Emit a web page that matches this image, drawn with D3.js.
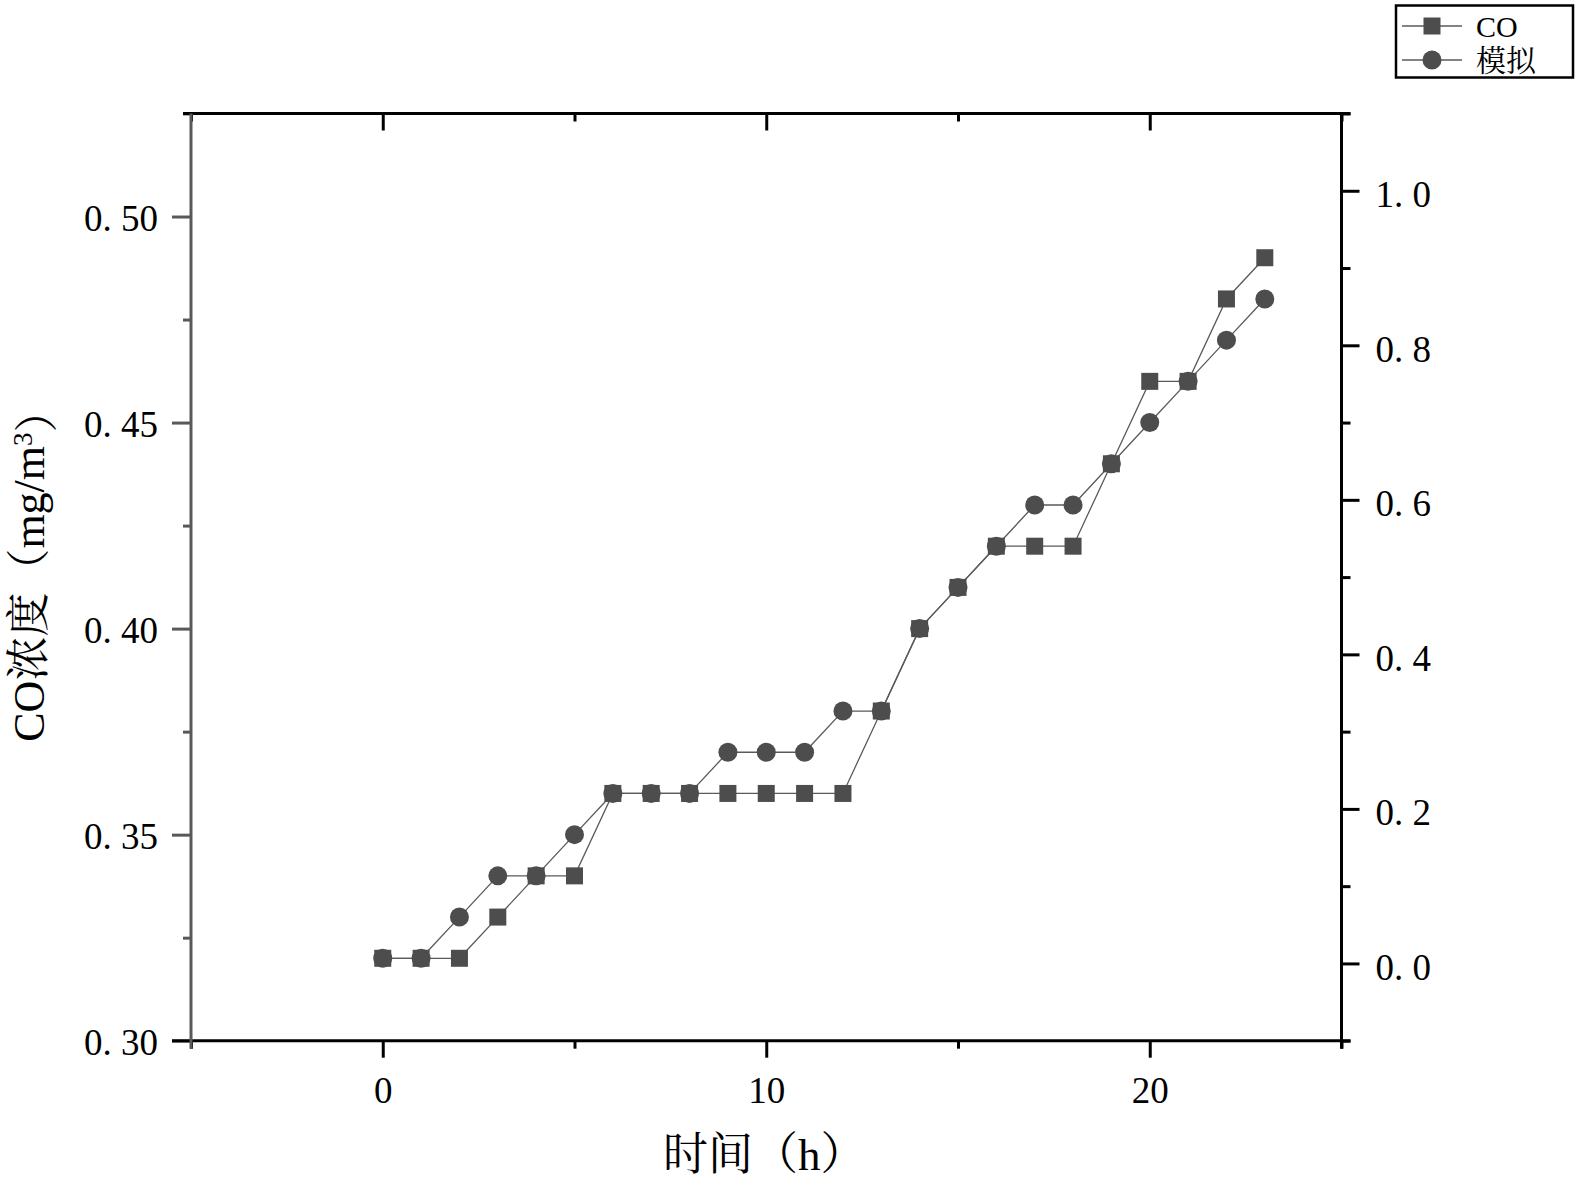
<!DOCTYPE html>
<html>
<head>
<meta charset="utf-8">
<script src="https://cdn.jsdelivr.net/npm/d3@7"></script>
<style>
  body { margin: 0; background: #fff; }
  svg text { font-family: "Liberation Serif", "Noto Serif CJK SC", "Noto Sans CJK SC", serif; fill: #000; }
</style>
</head>
<body>
<script>
(function(){

//data
var hours = [0,1,2,3,4,5,6,7,8,9,10,11,12,13,14,15,16,17,18,19,20,21,22,23];
var coValues = [0.32,0.32,0.32,0.33,0.34,0.34,0.36,0.36,0.36,0.36,0.36,0.36,0.36,0.38,0.40,0.41,0.42,0.42,0.42,0.44,0.46,0.46,0.48,0.49];
var simValues = [0.32,0.32,0.33,0.34,0.34,0.35,0.36,0.36,0.36,0.37,0.37,0.37,0.38,0.38,0.40,0.41,0.42,0.43,0.43,0.44,0.45,0.46,0.47,0.48];
var seriesNames = ["CO", "模拟"];

var xMajor = [0, 10, 20], xMinor = [-5, 5, 15, 25];
var yMajor = [0.30, 0.35, 0.40, 0.45, 0.50], yMinor = [0.325, 0.375, 0.425, 0.475, 0.525];
var rMajor = [0.0, 0.2, 0.4, 0.6, 0.8, 1.0], rMinor = [-0.1, 0.1, 0.3, 0.5, 0.7, 0.9, 1.1];

//frame
var width = 1575, height = 1181;
var left = 191, right = 1341.5, top = 113.5, bottom = 1040.7;
var markColor = "#4d4d4d", lineColor = "#5a5a5a";

var svg = d3.select("body").append("svg")
    .attr("width", width)
    .attr("height", height);

var x = d3.scaleLinear().domain([-5, 25]).range([left, right]);
var y = d3.scaleLinear().domain([0.30, 0.525]).range([bottom, top]);
var yRight = d3.scaleLinear().domain([-0.1, 1.1]).range([bottom, top]);

function fmt(n){
    return function(d){ return d3.format("." + n + "f")(d).replace(".", ". "); };
}

function styleAxis(g, color){
    g.select(".domain").remove();
    g.selectAll(".tick line").attr("stroke", color).attr("stroke-width", 3);
    g.selectAll(".tick text").style("font-size", "37px").attr("fill", "#000");
}

//left axis (gray)
svg.append("g").attr("transform", "translate(" + left + ",0)")
    .call(d3.axisLeft(y).tickValues(yMinor).tickSize(8).tickFormat(""))
    .call(styleAxis, "#595959");
svg.append("g").attr("transform", "translate(" + left + ",0)")
    .call(d3.axisLeft(y).tickValues(yMajor).tickSize(19).tickPadding(14).tickFormat(fmt(2)))
    .call(styleAxis, "#595959")
    .selectAll(".tick text").attr("dy", "0.38em");

//right axis
svg.append("g").attr("transform", "translate(" + right + ",0)")
    .call(d3.axisRight(yRight).tickValues(rMinor).tickSize(9).tickFormat(""))
    .call(styleAxis, "#000");
svg.append("g").attr("transform", "translate(" + right + ",0)")
    .call(d3.axisRight(yRight).tickValues(rMajor).tickSize(18).tickPadding(16).tickFormat(fmt(1)))
    .call(styleAxis, "#000")
    .selectAll(".tick text").attr("dy", "0.43em");

//bottom axis
svg.append("g").attr("transform", "translate(0," + bottom + ")")
    .call(d3.axisBottom(x).tickValues(xMinor).tickSize(8).tickFormat(""))
    .call(styleAxis, "#000");
svg.append("g").attr("transform", "translate(0," + bottom + ")")
    .call(d3.axisBottom(x).tickValues(xMajor).tickSize(17).tickPadding(19).tickFormat(d3.format("d")))
    .call(styleAxis, "#000");

//top axis, ticks inward
svg.append("g").attr("transform", "translate(0," + top + ")")
    .call(d3.axisTop(x).tickValues(xMinor).tickSize(-8).tickFormat(""))
    .call(styleAxis, "#000");
svg.append("g").attr("transform", "translate(0," + top + ")")
    .call(d3.axisTop(x).tickValues(xMajor).tickSize(-17).tickFormat(""))
    .call(styleAxis, "#000");

//frame lines
svg.append("line").attr("x1", left - 8).attr("x2", right + 9).attr("y1", top).attr("y2", top)
    .attr("stroke", "#000").attr("stroke-width", 3);
svg.append("line").attr("x1", left - 19).attr("x2", right + 9).attr("y1", bottom).attr("y2", bottom)
    .attr("stroke", "#000").attr("stroke-width", 3);
svg.append("line").attr("x1", right).attr("x2", right).attr("y1", top).attr("y2", bottom + 8)
    .attr("stroke", "#000").attr("stroke-width", 3);
svg.append("line").attr("x1", left).attr("x2", left).attr("y1", top).attr("y2", bottom + 8)
    .attr("stroke", "#595959").attr("stroke-width", 3);

//series lines
var line = d3.line()
    .x(function(d){ return x(d[0]); })
    .y(function(d){ return y(d[1]); });

var coPts = hours.map(function(h, i){ return [h, coValues[i]]; });
var simPts = hours.map(function(h, i){ return [h, simValues[i]]; });

svg.append("path").datum(coPts).attr("d", line)
    .attr("fill", "none").attr("stroke", lineColor).attr("stroke-width", 1.3);
svg.append("path").datum(simPts).attr("d", line)
    .attr("fill", "none").attr("stroke", lineColor).attr("stroke-width", 1.3);

//square markers
svg.selectAll(".coMark")
    .data(coPts)
    .enter()
    .append("rect")
    .attr("class", "coMark")
    .attr("x", function(d){ return x(d[0]) - 8.5; })
    .attr("y", function(d){ return y(d[1]) - 8.5; })
    .attr("width", 17)
    .attr("height", 17)
    .attr("fill", markColor);

//circle markers
svg.selectAll(".simMark")
    .data(simPts)
    .enter()
    .append("circle")
    .attr("class", "simMark")
    .attr("cx", function(d){ return x(d[0]); })
    .attr("cy", function(d){ return y(d[1]); })
    .attr("r", 9.5)
    .attr("fill", markColor);

//axis titles
svg.append("text")
    .attr("x", (left + right) / 2 - 2)
    .attr("y", 1170)
    .attr("text-anchor", "middle")
    .style("font-size", "45px")
    .text("时间（h）");

var yTitle = svg.append("text")
    .attr("transform", "translate(44," + ((top + bottom) / 2 - 12) + ") rotate(-90)")
    .attr("text-anchor", "middle")
    .style("font-size", "44px");
yTitle.append("tspan").text("CO浓度（mg/m");
yTitle.append("tspan").attr("dy", "-0.45em").style("font-size", "27px").text("3");
yTitle.append("tspan").attr("dy", "0.45em").text("）");

//legend
var legend = svg.append("g");
legend.append("rect")
    .attr("x", 1396).attr("y", 5.5).attr("width", 177).attr("height", 72)
    .attr("fill", "#fff").attr("stroke", "#000").attr("stroke-width", 2.5);

var legendRows = [26, 60];
seriesNames.forEach(function(name, i){
    var ly = legendRows[i];
    legend.append("line")
        .attr("x1", 1402).attr("x2", 1462).attr("y1", ly).attr("y2", ly)
        .attr("stroke", lineColor).attr("stroke-width", 1.3);
    if (i == 0){
        legend.append("rect")
            .attr("x", 1432 - 8.5).attr("y", ly - 8.5).attr("width", 17).attr("height", 17)
            .attr("fill", markColor);
    } else {
        legend.append("circle")
            .attr("cx", 1432).attr("cy", ly).attr("r", 9.5)
            .attr("fill", markColor);
    };
    legend.append("text")
        .attr("x", 1476)
        .attr("y", ly + 11)
        .style("font-size", "30px")
        .text(name);
});

})();
</script>
</body>
</html>
